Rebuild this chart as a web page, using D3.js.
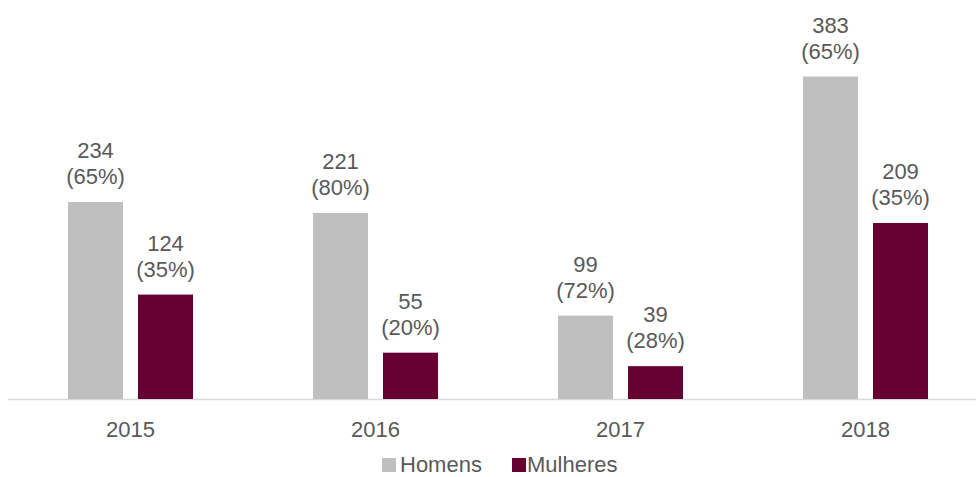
<!DOCTYPE html>
<html>
<head>
<meta charset="utf-8">
<script src="https://cdn.jsdelivr.net/npm/d3@7"></script>
<style>
  html, body { margin: 0; padding: 0; background: #ffffff; }
  svg { display: block; }
  text { font-family: "Liberation Sans", Arial, sans-serif; fill: #595959; }
</style>
</head>
<body>
<svg id="chart" width="976" height="477"></svg>
<script>
// Número de casos por ano, por sexo
const years = ["2015", "2016", "2017", "2018"];
const seriesNames = ["Homens", "Mulheres"];
const homens = [234, 221, 99, 383];
const mulheres = [124, 55, 39, 209];
const homensPct = ["65%", "80%", "72%", "65%"];
const mulheresPct = ["35%", "20%", "28%", "35%"];
const colors = ["#bfbfbf", "#660033"];

const rows = years.map((y, i) => ({
  year: y,
  values: [
    { key: seriesNames[0], value: homens[i], pct: homensPct[i] },
    { key: seriesNames[1], value: mulheres[i], pct: mulheresPct[i] }
  ]
}));

const svg = d3.select("#chart");
const baseY = 399;
const fontSize = 22;

const x0 = d3.scaleBand().domain(years).range([8, 988]).paddingInner(0).paddingOuter(0);
const x1 = d3.scaleBand().domain(seriesNames).range([60, 185]).paddingInner(15 / 70).paddingOuter(0);
const y = d3.scaleLinear().domain([0, 383]).range([baseY, 76.5]);
const color = d3.scaleOrdinal().domain(seriesNames).range(colors);

// Eixo horizontal
svg.append("line")
  .attr("x1", 8).attr("x2", 976)
  .attr("y1", baseY + 0.5).attr("y2", baseY + 0.5)
  .attr("stroke", "#d9d9d9").attr("stroke-width", 1.5);

const groups = svg.selectAll("g.year")
  .data(rows)
  .join("g")
  .attr("class", "year")
  .attr("transform", d => `translate(${x0(d.year)},0)`);

groups.selectAll("rect")
  .data(d => d.values)
  .join("rect")
  .attr("x", d => x1(d.key))
  .attr("y", d => y(d.value))
  .attr("width", x1.bandwidth())
  .attr("height", d => baseY - y(d.value))
  .attr("fill", d => color(d.key));

// Rótulos de valor e percentual
const lbl = groups.selectAll("g.lbl")
  .data(d => d.values)
  .join("g")
  .attr("class", "lbl");

lbl.append("text")
  .attr("x", d => x1(d.key) + x1.bandwidth() / 2)
  .attr("y", d => y(d.value) - 44)
  .attr("text-anchor", "middle")
  .attr("font-size", fontSize)
  .text(d => d.value);

lbl.append("text")
  .attr("x", d => x1(d.key) + x1.bandwidth() / 2)
  .attr("y", d => y(d.value) - 18)
  .attr("text-anchor", "middle")
  .attr("font-size", fontSize)
  .text(d => `(${d.pct})`);

// Rótulos das categorias
svg.append("g")
  .selectAll("text")
  .data(years)
  .join("text")
  .attr("x", d => x0(d) + x0.bandwidth() / 2)
  .attr("y", 437)
  .attr("text-anchor", "middle")
  .attr("font-size", fontSize)
  .text(d => d);

// Legenda
const legendItems = [
  { key: "Homens", x: 382, tx: 400 },
  { key: "Mulheres", x: 512, tx: 527 }
];
const leg = svg.append("g").selectAll("g")
  .data(legendItems)
  .join("g");
leg.append("rect")
  .attr("x", d => d.x).attr("y", 458)
  .attr("width", 14).attr("height", 14)
  .attr("fill", d => color(d.key));
leg.append("text")
  .attr("x", d => d.tx).attr("y", 472)
  .attr("font-size", fontSize)
  .text(d => d.key);
</script>
</body>
</html>
